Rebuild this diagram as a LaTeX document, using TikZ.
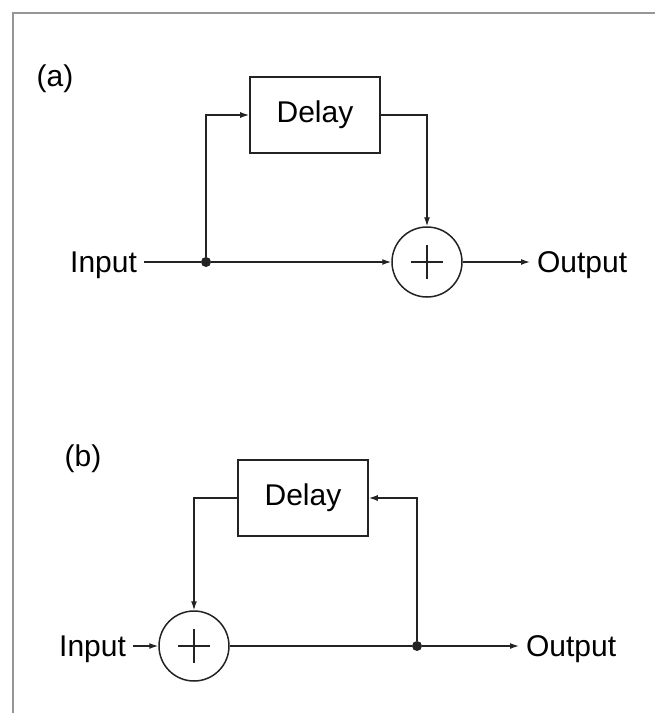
\documentclass[tikz,border=0pt]{standalone}
\usepackage{fontspec}
\setmainfont{Liberation Sans}
\usetikzlibrary{arrows.meta, positioning, calc}
\definecolor{cwire}{RGB}{35,35,35}
\definecolor{cframe}{RGB}{150,150,150}

\begin{document}
\begin{tikzpicture}[
    x=0.5pt, y=-0.5pt,
    font=\fontsize{15}{18}\selectfont,
    delaybox/.style={
      rectangle, draw=cwire, line width=0.8pt,
      minimum width=65pt, minimum height=38pt
    },
    sumnode/.style={
      circle, draw=cwire, line width=0.75pt,
      minimum size=35pt, inner sep=0pt,
      path picture={
        \draw[cwire, line width=1.1pt]
          (path picture bounding box.center) ++(-8pt,0pt) -- ++(16pt,0pt);
        \draw[cwire, line width=1.1pt]
          (path picture bounding box.center) ++(0pt,-8.5pt) -- ++(0pt,17pt);
      }
    },
    junc/.style={
      circle, fill=cwire, inner sep=0pt, minimum size=5pt
    },
    sigline/.style={
      draw=cwire, line width=0.65pt
    },
    sigarr/.style={
      sigline, -{Latex[length=4.5pt, width=3pt]}
    }
  ]

  \useasboundingbox (0,0) rectangle (655,713);

  % ---- Frame ----
  \draw[cframe, line width=1pt] (13,713) -- (13,13) -- (655,13);

  % ---- (a) feed-forward ----
  \node (lbla) at (55,79) {(a)};
  \node[delaybox] (dla) at (315,115) {Delay};
  \node[sumnode]  (suma) at (427,262) {};
  \node[junc]     (ja)   at (206,262) {};
  \node[anchor=east] (ina)  at (144,265) {Input};
  \node[anchor=west] (outa) at (530,265) {Output};

  \draw[sigline] (ja -| ina.east) -- (ja);
  \draw[sigarr]  (ja) -- (suma.west);
  \draw[sigarr]  (ja) |- (dla.west);
  \draw[sigarr]  (dla.east) -| (suma.north);
  \draw[sigarr]  (suma.east) -- (suma -| outa.west);

  % ---- (b) feedback ----
  \node (lblb) at (83,459) {(b)};
  \node[delaybox] (dlb) at (303,498) {Delay};
  \node[sumnode]  (sumb) at (194,646) {};
  \node[junc]     (jb)   at (417,646) {};
  \node[anchor=east] (inb)  at (133,649) {Input};
  \node[anchor=west] (outb) at (519,649) {Output};

  \draw[sigarr]  (sumb -| inb.east) -- (sumb.west);
  \draw[sigline] (sumb.east) -- (jb);
  \draw[sigarr]  (jb) -- (sumb -| outb.west);
  \draw[sigarr]  (jb) |- (dlb.east);
  \draw[sigarr]  (dlb.west) -| (sumb.north);

\end{tikzpicture}
\end{document}
